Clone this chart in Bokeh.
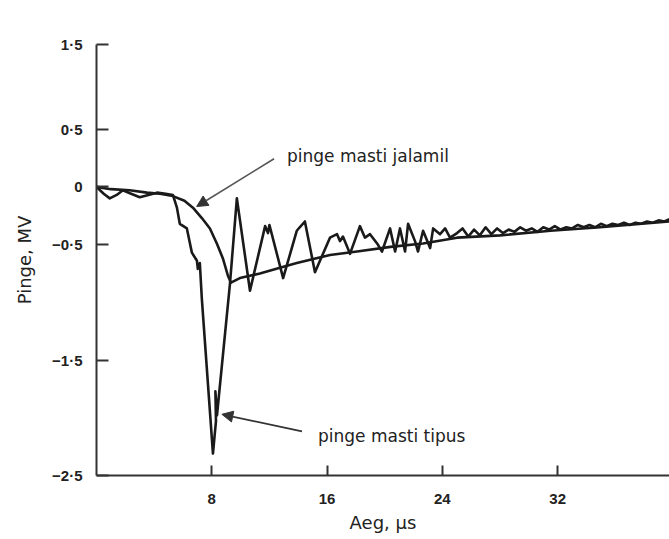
from bokeh.plotting import figure
from bokeh.models import Range1d, FixedTicker, Arrow, NormalHead, Label
from bokeh.embed import file_html
from bokeh.resources import INLINE

# ---- data ----
tip_time = [0, 0.5, 0.92, 1.4, 1.83, 2.4, 3.0, 3.6, 4.19, 4.8, 5.30, 5.58, 5.78, 6.27, 6.62,
            6.97, 7.03, 7.17, 7.31, 8.08, 8.29, 8.25, 8.36, 9.26, 9.74, 10.65, 11.7, 11.9,
            12.0, 12.95, 13.9, 14.1, 14.46, 15.16, 16.2, 16.69, 16.9, 17.1, 17.59, 18.28,
            18.63, 18.98, 19.47, 19.81, 20.37, 20.72, 21.06, 21.41, 21.62, 22.1, 22.31,
            22.66, 23.15, 23.36, 23.84, 24.19, 24.53, 25.02, 25.4, 25.8, 26.2, 26.6, 27.0,
            27.4, 27.8, 28.2, 28.6, 29.0, 29.4, 29.8, 30.2, 30.6, 31.0, 31.4, 31.8, 32.2,
            32.6, 33.0, 33.4, 33.8, 34.2, 34.6, 35.0, 35.4, 35.8, 36.2, 36.6, 37.0, 37.4,
            37.8, 38.2, 38.6, 39.0, 39.4, 39.76]
tip_volt = [0, -0.06, -0.10, -0.07, -0.03, -0.06, -0.09, -0.07, -0.05, -0.06, -0.07, -0.18,
            -0.32, -0.36, -0.57, -0.64, -0.71, -0.66, -0.97, -2.31, -2.03, -1.77, -1.98,
            -0.84, -0.10, -0.90, -0.34, -0.40, -0.33, -0.79, -0.38, -0.35, -0.30, -0.74,
            -0.44, -0.41, -0.47, -0.43, -0.58, -0.34, -0.44, -0.41, -0.49, -0.56, -0.36,
            -0.56, -0.36, -0.56, -0.32, -0.47, -0.56, -0.38, -0.53, -0.36, -0.41, -0.36,
            -0.44, -0.40, -0.36, -0.43, -0.37, -0.42, -0.35, -0.41, -0.36, -0.40, -0.37,
            -0.39, -0.35, -0.38, -0.36, -0.39, -0.35, -0.37, -0.34, -0.37, -0.35, -0.36,
            -0.33, -0.35, -0.33, -0.35, -0.32, -0.34, -0.32, -0.33, -0.31, -0.33, -0.31,
            -0.32, -0.30, -0.31, -0.29, -0.30, -0.28]

base_time = [0, 1.0, 2.3, 3.5, 4.4, 5.3, 6.1, 6.69, 7.31, 7.87, 8.35, 8.77, 9.12, 9.33, 9.95,
             11.34, 12.73, 13.9, 16.2, 18.08, 20.4, 22.66, 25.02, 28.0, 31.5, 34.95, 39.76]
base_volt = [0, -0.02, -0.03, -0.05, -0.06, -0.08, -0.12, -0.18, -0.27, -0.36, -0.49, -0.62,
             -0.77, -0.83, -0.79, -0.75, -0.70, -0.66, -0.59, -0.56, -0.52, -0.49, -0.44,
             -0.42, -0.38, -0.35, -0.30]

x_ticks = [8, 16, 24, 32]
y_ticks = [-2.5, -1.5, -0.5, 0, 0.5, 1.233]
y_tick_labels = ["\u22122\u00b75", "\u22121\u00b75", "\u22120\u00b75", "0", "0\u00b75", "1\u00b75"]

label_tip = "pinge masti tipus"
label_base = "pinge masti jalamil"
x_title = "Aeg, \u03bcs"
y_title = "Pinge, MV"

# ---- figure ----
p = figure(width=669, height=539, output_backend="svg", toolbar_location=None,
           x_range=Range1d(0, 39.76), y_range=Range1d(-2.5, 1.233),
           min_border_left=96, min_border_right=0, min_border_top=44, min_border_bottom=64)
p.outline_line_color = None
p.grid.visible = False
p.background_fill_color = "white"
p.border_fill_color = "white"

ink = "#1a1a1a"
for ax in (p.xaxis[0], p.yaxis[0]):
    ax.axis_line_color = "#333333"
    ax.axis_line_width = 2
    ax.major_tick_line_color = "#333333"
    ax.major_tick_line_width = 2
    ax.major_tick_out = 0
    ax.minor_tick_line_color = None
    ax.major_label_text_font = "Liberation Sans"
    ax.major_label_text_font_style = "bold"
    ax.major_label_text_font_size = "15px"
    ax.major_label_text_color = "#222222"
    ax.axis_label_text_font = "DejaVu Sans"
    ax.axis_label_text_font_style = "normal"
    ax.axis_label_text_font_size = "18px"
    ax.axis_label_text_color = "#222222"

p.xaxis[0].ticker = FixedTicker(ticks=x_ticks)
p.xaxis[0].major_tick_in = 10
p.xaxis[0].major_label_standoff = 18
p.xaxis[0].axis_label = x_title
p.xaxis[0].axis_label_standoff = 5

p.yaxis[0].ticker = FixedTicker(ticks=y_ticks)
p.yaxis[0].major_tick_in = 12
p.yaxis[0].major_label_standoff = 14
p.yaxis[0].major_label_overrides = {t: s for t, s in zip(y_ticks, y_tick_labels)}
p.yaxis[0].axis_label = y_title
p.yaxis[0].axis_label_standoff = 14

p.line(base_time, base_volt, line_color=ink, line_width=2.6, line_join="round")
p.line(tip_time, tip_volt, line_color=ink, line_width=2.6, line_join="round")

# arrows
p.add_layout(Arrow(end=NormalHead(size=11, fill_color="#333333", line_color="#333333"),
                   x_start=12.32, y_start=0.243, x_end=6.95, y_end=-0.17,
                   line_color="#555555", line_width=1.6))
p.add_layout(Arrow(end=NormalHead(size=11, fill_color="#333333", line_color="#333333"),
                   x_start=14.26, y_start=-2.118, x_end=8.70, y_end=-1.97,
                   line_color="#333333", line_width=1.8))

txt = dict(text_font="DejaVu Sans", text_color="#222222")
p.add_layout(Label(x=13.22, y=0.27, text=label_base, text_align="left",
                   text_baseline="middle", text_font_size="17px", **txt))
p.add_layout(Label(x=15.37, y=-2.16, text=label_tip, text_align="left",
                   text_baseline="middle", text_font_size="17px", **txt))

open("out.html", "w").write(file_html(p, INLINE))
